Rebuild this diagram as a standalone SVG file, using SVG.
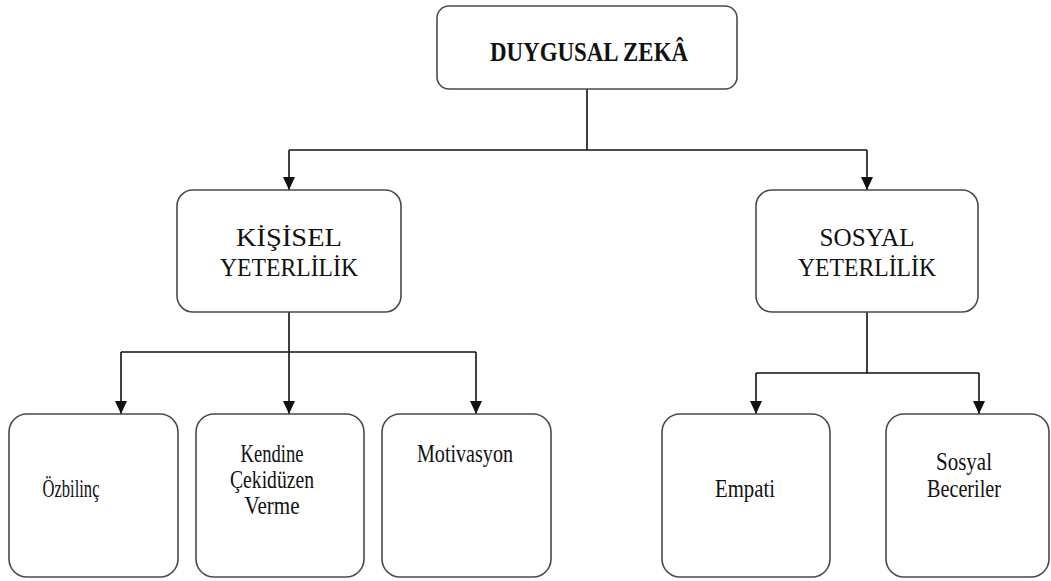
<svg xmlns="http://www.w3.org/2000/svg" width="1051" height="581" viewBox="0 0 1051 581">
<style>
.box{fill:#fff;stroke:#4a4a4a;stroke-width:1.6}
.t{font-family:"Liberation Serif","Times New Roman",serif;fill:#111;text-anchor:middle}
.big{font-size:25px}
.title{font-size:28px;font-weight:bold}
.sm{font-size:25px}
.con{fill:none;stroke:#111;stroke-width:1.6}
</style>
<defs>
<marker id="arr" markerWidth="13" markerHeight="12" refX="13" refY="6" orient="auto" markerUnits="userSpaceOnUse" viewBox="0 0 13 12">
<path d="M0,0 L13,6 L0,12 Z" fill="#111"/>
</marker>
</defs>
<g id="connectors">
<path class="con" d="M587,89 V150 M289,150 H867"/>
<path class="con" d="M289,150 V190" marker-end="url(#arr)"/>
<path class="con" d="M867,150 V190" marker-end="url(#arr)"/>
<path class="con" d="M289,312 V352 M121,352 H476"/>
<path class="con" d="M121,352 V414" marker-end="url(#arr)"/>
<path class="con" d="M289,352 V414" marker-end="url(#arr)"/>
<path class="con" d="M476,352 V414" marker-end="url(#arr)"/>
<path class="con" d="M867,312 V373 M756,373 H979"/>
<path class="con" d="M756,373 V414" marker-end="url(#arr)"/>
<path class="con" d="M979,373 V414" marker-end="url(#arr)"/>
</g>
<g id="duygusal-zeka">
<rect class="box" x="437" y="6" width="300" height="83" rx="12"/>
<text class="t title" x="589" y="61" textLength="198" lengthAdjust="spacingAndGlyphs">DUYGUSAL ZEKÂ</text>
</g>
<g id="kisisel-yeterlilik">
<rect class="box" x="177" y="190" width="224" height="122" rx="16"/>
<text class="t big" x="289" y="246" textLength="106" lengthAdjust="spacingAndGlyphs">KİŞİSEL</text>
<text class="t big" x="289" y="276" textLength="138" lengthAdjust="spacingAndGlyphs">YETERLİLİK</text>
</g>
<g id="sosyal-yeterlilik">
<rect class="box" x="756" y="190" width="222" height="122" rx="16"/>
<text class="t big" x="867" y="246" textLength="95" lengthAdjust="spacingAndGlyphs">SOSYAL</text>
<text class="t big" x="867" y="276" textLength="138" lengthAdjust="spacingAndGlyphs">YETERLİLİK</text>
</g>
<g id="ozbilinc">
<rect class="box" x="9" y="414" width="169" height="163" rx="18"/>
<text class="t sm" x="71" y="497" textLength="57" lengthAdjust="spacingAndGlyphs">Özbilinç</text>
</g>
<g id="kendine">
<rect class="box" x="196" y="414" width="168" height="163" rx="18"/>
<text class="t sm" x="272" y="462" textLength="63" lengthAdjust="spacingAndGlyphs">Kendine</text>
<text class="t sm" x="272" y="488" textLength="84" lengthAdjust="spacingAndGlyphs">Çekidüzen</text>
<text class="t sm" x="272" y="514" textLength="55" lengthAdjust="spacingAndGlyphs">Verme</text>
</g>
<g id="motivasyon">
<rect class="box" x="382" y="414" width="169" height="163" rx="18"/>
<text class="t sm" x="465" y="462" textLength="96" lengthAdjust="spacingAndGlyphs">Motivasyon</text>
</g>
<g id="empati">
<rect class="box" x="662" y="414" width="168" height="163" rx="18"/>
<text class="t sm" x="745" y="497" textLength="60" lengthAdjust="spacingAndGlyphs">Empati</text>
</g>
<g id="sosyal-beceriler">
<rect class="box" x="886" y="414" width="163" height="163" rx="18"/>
<text class="t sm" x="964" y="470" textLength="56" lengthAdjust="spacingAndGlyphs">Sosyal</text>
<text class="t sm" x="964" y="497" textLength="74" lengthAdjust="spacingAndGlyphs">Beceriler</text>
</g>
</svg>
